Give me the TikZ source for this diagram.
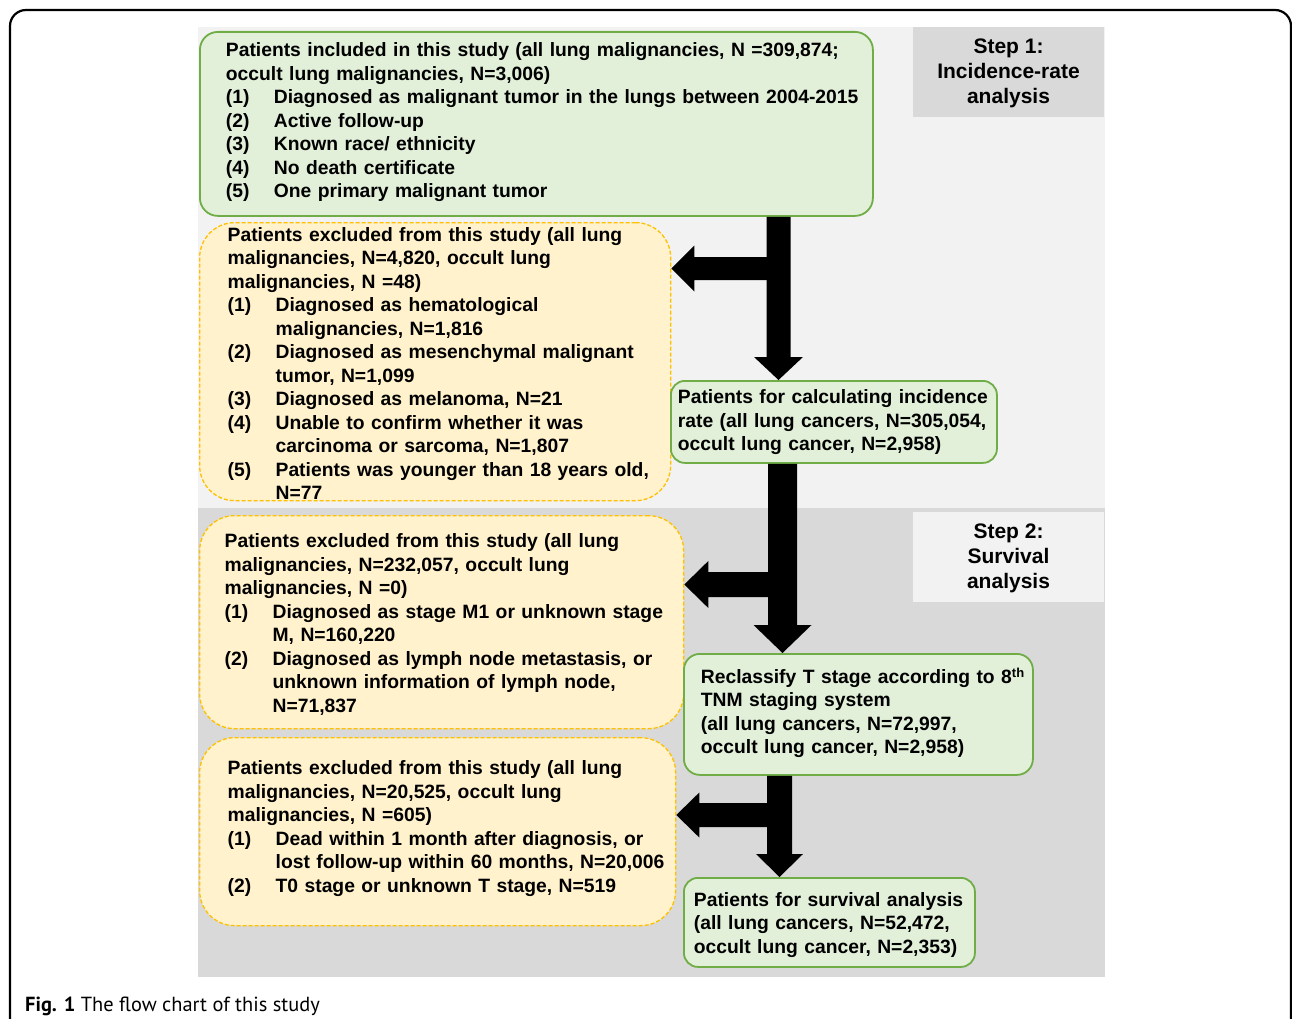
\documentclass[tikz,border=0pt]{standalone}
\usepackage{fontspec}
\setmainfont{Liberation Sans}
\newfontfamily\capfont{PT Sans}
\usetikzlibrary{calc}
\definecolor{gfill}{HTML}{E2F0D9}
\definecolor{gline}{HTML}{70AD47}
\definecolor{yfill}{HTML}{FFF2CC}
\definecolor{yline}{HTML}{FFC000}
\definecolor{lgrey}{HTML}{F2F2F2}
\definecolor{dgrey}{HTML}{D9D9D9}
\newcommand{\myline}[1]{\mbox{#1}}
\newcommand{\myitem}[2]{\mbox{\makebox[48pt][l]{#1}#2}}
\newcommand{\mycont}[1]{\mbox{\hspace*{48pt}#1}}
\newcommand{\fst}[1]{\rule{0pt}{#1pt}}
\newcommand{\lst}[1]{\rule[-#1pt]{0pt}{#1pt}}
% vertical block arrow: start, tip, half shaft, half head, head length
\newcommand{\vblock}[5]{\fill ($(#1)+(-#3,0)$) -- ($(#2)+(-#3,-#5)$) -- ($(#2)+(-#4,-#5)$) -- (#2) -- ($(#2)+(#4,-#5)$) -- ($(#2)+(#3,-#5)$) -- ($(#1)+(#3,0)$) -- cycle;}
% leftward block arrow: junction, tip, half shaft, half head, head length
\newcommand{\hblock}[5]{\fill ($(#1)+(0,-#3)$) -- ($(#2)+(#5,-#3)$) -- ($(#2)+(#5,-#4)$) -- (#2) -- ($(#2)+(#5,#4)$) -- ($(#2)+(#5,#3)$) -- ($(#1)+(0,#3)$) -- cycle;}
\tikzset{
  boxfont/.style={font=\fontsize{19.3}{23.5}\selectfont\bfseries},
  gbox/.style={draw=gline, fill=gfill, line width=1.8pt, rounded corners=18pt, anchor=north west, inner ysep=0pt, align=left, boxfont},
  ybox/.style={draw=yline, fill=yfill, line width=1.3pt, dash pattern=on 4pt off 2pt, rounded corners=35pt, anchor=north west, inner ysep=0pt, align=left, boxfont},
  stepbox/.style={minimum width=191pt, minimum height=90pt, inner sep=0pt, align=center, font=\fontsize{21}{25}\selectfont\bfseries}
}
\begin{document}
\begin{tikzpicture}[x=1pt,y=-1pt]
\useasboundingbox (0,0) rectangle (1292,1019);
\fill[white] (0,0) rectangle (1292,1019);
% outer frame
\draw[line width=2.2pt, rounded corners=16pt] (10,10) rectangle (1291,1045);
% panels
\fill[lgrey] (198,27) rectangle (1105,508);
\fill[dgrey] (198,508) rectangle (1105,977);
% step labels
\node[stepbox, fill=dgrey] (s1) at (1008.5,72) {\fst{17}Step 1:\\Incidence-rate\\analysis};
\node[stepbox, fill=lgrey] (s2) at (1008.5,556.5) {\fst{18}Step 2:\\Survival\\analysis};
% boxes
\node[gbox, minimum width=673pt, minimum height=184pt, inner xsep=26pt, text width=621pt] (A) at (199,31) {%
\myline{\fst{16}Patients included in this study (all lung malignancies, N =309,874;}\\
\myline{occult lung malignancies, N=3,006)}\\
\myitem{(1)}{Diagnosed as malignant tumor in the lungs between 2004-2015}\\
\myitem{(2)}{Active follow-up}\\
\myitem{(3)}{Known race/ ethnicity}\\
\myitem{(4)}{No death certificate}\\
\myitem{(5)}{One primary malignant tumor\lst{9}}};
\node[ybox, minimum width=471pt, minimum height=278pt, inner xsep=28pt, text width=415pt] (E) at (199,222) {%
\myline{\fst{18}Patients excluded from this study (all lung}\\
\myline{malignancies, N=4,820, occult lung}\\
\myline{malignancies, N =48)}\\
\myitem{(1)}{Diagnosed as hematological}\\
\mycont{malignancies, N=1,816}\\
\myitem{(2)}{Diagnosed as mesenchymal malignant}\\
\mycont{tumor, N=1,099}\\
\myitem{(3)}{Diagnosed as melanoma, N=21}\\
\myitem{(4)}{Unable to confirm whether it was}\\
\mycont{carcinoma or sarcoma, N=1,807}\\
\myitem{(5)}{Patients was younger than 18 years old,}\\
\mycont{N=77}};
\node[gbox, rounded corners=14pt, minimum width=326pt, minimum height=82pt, inner xsep=7pt, text width=312pt] (B) at (670,380) {%
\myline{\fst{15.5}Patients for calculating incidence}\\
\myline{rate (all lung cancers, N=305,054,}\\
\myline{occult lung cancer, N=2,958)\lst{4.5}}};
\node[ybox, minimum width=484pt, minimum height=213pt, inner xsep=25pt, text width=434pt] (F) at (199,515) {%
\myline{\fst{19}Patients excluded from this study (all lung}\\
\myline{malignancies, N=232,057, occult lung}\\
\myline{malignancies, N =0)}\\
\myitem{(1)}{Diagnosed as stage M1 or unknown stage}\\
\mycont{M, N=160,220}\\
\myitem{(2)}{Diagnosed as lymph node metastasis, or}\\
\mycont{unknown information of lymph node,}\\
\mycont{N=71,837\lst{3}}};
\node[gbox, rounded corners=16pt, minimum width=349pt, minimum height=121pt, inner xsep=17pt, text width=315pt] (C) at (683,653) {%
\myline{\fst{17}Reclassify T stage according to 8{\fontsize{13}{13}\selectfont\raisebox{6pt}{th}}}\\
\myline{TNM staging system}\\
\myline{(all lung cancers, N=72,997,}\\
\myline{occult lung cancer, N=2,958)\lst{9}}};
\node[ybox, minimum width=476pt, minimum height=188pt, inner xsep=28pt, text width=420pt] (G) at (199,737) {%
\myline{\fst{15}Patients excluded from this study (all lung}\\
\myline{malignancies, N=20,525, occult lung}\\
\myline{malignancies, N =605)}\\
\myitem{(1)}{Dead within 1 month after diagnosis, or}\\
\mycont{lost follow-up within 60 months, N=20,006}\\
\myitem{(2)}{T0 stage or unknown T stage, N=519\lst{11}}};
\node[gbox, rounded corners=14pt, minimum width=291pt, minimum height=89pt, inner xsep=10pt, text width=271pt] (D) at (683,877) {%
\myline{\fst{19.5}Patients for survival analysis}\\
\myline{(all lung cancers, N=52,472,}\\
\myline{occult lung cancer, N=2,353)\lst{4.5}}};
% arrows
\coordinate (x1) at (778.5,0);
\coordinate (a1s) at (x1 |- A.south);
\coordinate (a1e) at (x1 |- B.north);
\coordinate (j1) at (778.5,268.5);
\coordinate (t1) at (j1 -| E.east);
\vblock{a1s}{a1e}{12}{24.5}{23}
\hblock{j1}{t1}{11.5}{23}{23}
\coordinate (x2) at (782.5,0);
\coordinate (a2s) at (x2 |- B.south);
\coordinate (a2e) at (x2 |- C.north);
\coordinate (j2) at (782.5,584.5);
\coordinate (t2) at (j2 -| F.east);
\vblock{a2s}{a2e}{14.5}{29}{28}
\hblock{j2}{t2}{12.5}{23.5}{24}
\coordinate (x3) at (779.5,0);
\coordinate (a3s) at (x3 |- C.south);
\coordinate (a3e) at (x3 |- D.north);
\coordinate (j3) at (779.5,815);
\coordinate (t3) at (j3 -| G.east);
\vblock{a3s}{a3e}{12.5}{23.5}{23}
\hblock{j3}{t3}{12}{22.5}{23}
% caption
\node[anchor=base west, inner sep=0pt, font=\capfont\fontsize{20.4}{24}\selectfont] (cap) at (25,1011) {\textbf{Fig. 1} The flow chart of this study};
\end{tikzpicture}
\end{document}
